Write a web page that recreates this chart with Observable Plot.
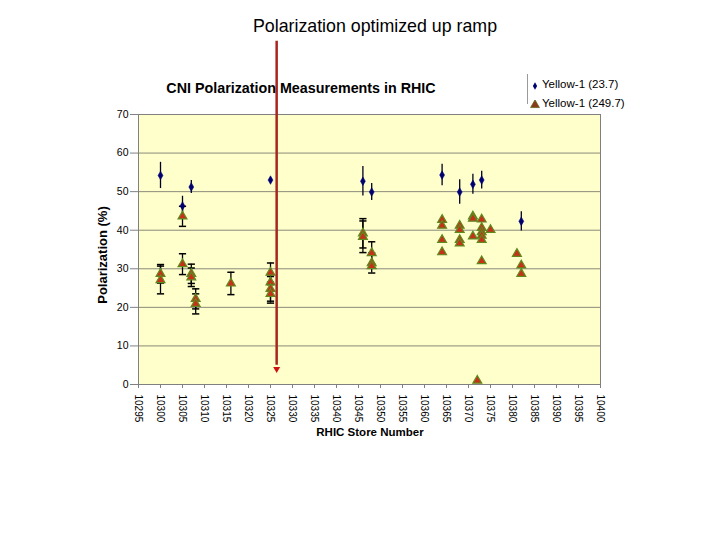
<!DOCTYPE html>
<html><head><meta charset="utf-8">
<script src="https://cdn.jsdelivr.net/npm/d3@7"></script>
<script src="https://cdn.jsdelivr.net/npm/@observablehq/plot@0.6"></script>
<style>
body{margin:0;background:#fff;font-family:"Liberation Sans",Arial,sans-serif;}
#wrap{position:relative;width:720px;height:540px;overflow:hidden;}
#wrap svg.chart{position:absolute;left:0;top:0;}
.t{position:absolute;white-space:nowrap;color:#000;}
</style></head><body><div id="wrap"></div>
<script>
// ---- data ----
const xTicks = [10295,10300,10305,10310,10315,10320,10325,10330,10335,10340,10345,10350,10355,10360,10365,10370,10375,10380,10385,10390,10395,10400];
const yTicks = [0,10,20,30,40,50,60,70];

// Yellow-1 (23.7)
const blueStore = [10300,10305,10307,10325,10346,10348,10364,10368,10371,10373,10382];
const bluePol   = [54.2, 46.3, 51.2, 53.0, 52.7, 49.9, 54.3, 49.9, 51.9, 53.0, 42.3];
const blueErr   = [3.4,  2.5,  1.7,  0.3,  3.8,  2.2,  2.8,  3.2,  2.6,  2.3,  2.5];

// Yellow-1 (249.7)
const redStore = [10300,10300,10305,10305,10307,10307,10308,10308,10316,
                  10325,10325,10325,10325,10346,10346,10348,10348,10348,
                  10364,10364,10364,10364,10368,10368,10368,10368,
                  10371,10371,10371,10372,10373,10373,10373,10373,10373,10373,
                  10375,10381,10382,10382];
const redPol   = [28.7,27.1,43.6,31.2,28.7,27.8,22.2,20.9,26.2,
                  29.0,26.5,24.8,23.5,39.2,38.3,34.1,31.5,30.7,
                  42.7,41.2,37.5,34.3,41.2,40.1,37.5,36.6,
                  43.6,43.0,38.4,1.0,42.8,40.6,39.5,38.6,37.5,32.0,
                  40.1,33.9,30.9,28.7];
const redErr   = [2.4,3.6,2.6,2.7,2.5,2.4,2.6,2.6,2.9,
                  2.5,2.0,3.2,2.4,3.8,4.1,2.9,2.6,0,
                  0,0,0,0,0,0,0,0,
                  0,0,0,0,0,0,0,0,0,0,
                  0,0,0,0];

// "up ramp" marker
const rampStore = 10326.4;
const rampFrom = 89;
const rampTo = 4;

// ---- tables ----
const blue = blueStore.map((s,i)=>({store:s, pol:bluePol[i], err:blueErr[i]}));
const red = redStore.map((s,i)=>({store:s, pol:redPol[i], err:redErr[i]}));
const redE = red.filter(d=>d.err>0);

const cap = {draw(ctx, size){ const r = Math.sqrt(size/Math.PI); ctx.moveTo(-r,0); ctx.lineTo(r,0); }};

const chart = Plot.plot({
  width: 720, height: 540,
  marginLeft: 138, marginRight: 120, marginTop: 114, marginBottom: 156,
  style: {fontFamily: '"Liberation Sans", Arial, sans-serif', fontSize: "10px", color: "#000", background: "transparent"},
  x: {domain: [10295, 10400]},
  y: {domain: [0, 70]},
  marks: [
    Plot.frame({fill: "#FFFFCC", stroke: null}),
    Plot.ruleY(yTicks.filter(v=>v>0), {stroke: "#8a8a7a", strokeWidth: 1}),
    Plot.frame({stroke: "#808080", strokeWidth: 1}),
    Plot.axisX({ticks: xTicks, tickFormat: "d", tickRotate: 90, tickSize: 4, tickPadding: 6, stroke: "#808080", fill: "#000", fontSize: 10, label: null}),
    Plot.axisY({ticks: yTicks, tickSize: 8, tickPadding: 2, stroke: "#808080", fill: "#000", fontSize: 10.5, label: null}),
    // error bars
    Plot.ruleX(blue, {x: "store", y1: d=>d.pol-d.err, y2: d=>d.pol+d.err, stroke: "#000022", strokeWidth: 1.3}),
    Plot.ruleX(redE, {x: "store", y1: d=>d.pol-d.err, y2: d=>d.pol+d.err, stroke: "#000", strokeWidth: 1.3}),
    Plot.dot(redE, {x: "store", y: d=>d.pol+d.err, symbol: cap, r: 3.6, stroke: "#000", fill: "none", strokeWidth: 1.5}),
    Plot.dot(redE, {x: "store", y: d=>d.pol-d.err, symbol: cap, r: 3.6, stroke: "#000", fill: "none", strokeWidth: 1.5}),
    // points
    Plot.dot(red, {x: "store", y: "pol", symbol: "triangle", r: 3.3, fill: "#C8301A", stroke: "#5E8A1E", strokeWidth: 1.2}),
    Plot.dot(blue, {x: "store", y: "pol", symbol: "diamond", r: 2.6, fill: "#000070", stroke: "#000070", strokeWidth: 0.5}),
    // ramp arrow
    Plot.ruleX([rampStore], {y1: rampFrom, y2: rampTo + 1, stroke: "#A8261E", strokeWidth: 2.5}),
    Plot.dot([rampStore], {x: d=>d, y: rampTo, symbol: "triangle", rotate: 180, r: 2.6, fill: "#D01010", stroke: "none"})
  ]
});
chart.classList.add("chart");
const wrap = document.getElementById("wrap");
wrap.appendChild(chart);

function addText(txt, css){ const d=document.createElement("div"); d.className="t"; d.textContent=txt; Object.assign(d.style, css); wrap.appendChild(d); return d; }
addText("Polarization optimized up ramp", {left:"175px", width:"400px", textAlign:"center", top:"16px", fontSize:"17.8px"});
addText("CNI Polarization Measurements in RHIC", {left:"101px", width:"400px", textAlign:"center", top:"80px", fontSize:"14.3px", fontWeight:"bold"});
addText("RHIC Store Number", {left:"270px", width:"200px", textAlign:"center", top:"426px", fontSize:"11.5px", fontWeight:"bold"});
addText("Polarization (%)", {left:"3px", width:"200px", textAlign:"center", top:"247px", fontSize:"13px", fontWeight:"bold", transform:"rotate(-90deg)", transformOrigin:"100px 8px"});

// legend
const ln = document.createElement("div");
Object.assign(ln.style, {position:"absolute", left:"527px", top:"74px", width:"1px", height:"30px", background:"#9a9a9a"});
wrap.appendChild(ln);
const legend = [
  {label:"Yellow-1 (23.7)", sym:"diamond", y:78},
  {label:"Yellow-1 (249.7)", sym:"triangle", y:97}
];
legend.forEach(l=>{
  const s = document.createElementNS("http://www.w3.org/2000/svg","svg");
  s.setAttribute("width","10"); s.setAttribute("height","10");
  Object.assign(s.style,{position:"absolute", left:"530px", top:(l.y+3)+"px"});
  const p = document.createElementNS("http://www.w3.org/2000/svg","path");
  if(l.sym==="diamond"){ p.setAttribute("d", d3.symbol(d3.symbolDiamond, 16)()); p.setAttribute("fill","#000070"); }
  else { p.setAttribute("d", d3.symbol(d3.symbolTriangle, 34)()); p.setAttribute("fill","#8B3A1A"); p.setAttribute("stroke","#5E6A1E"); p.setAttribute("stroke-width","0.8"); }
  p.setAttribute("transform","translate(5,5)");
  s.appendChild(p); wrap.appendChild(s);
  addText(l.label, {left:"542px", top:l.y+"px", fontSize:"11.5px"});
});
</script>
</body></html>
